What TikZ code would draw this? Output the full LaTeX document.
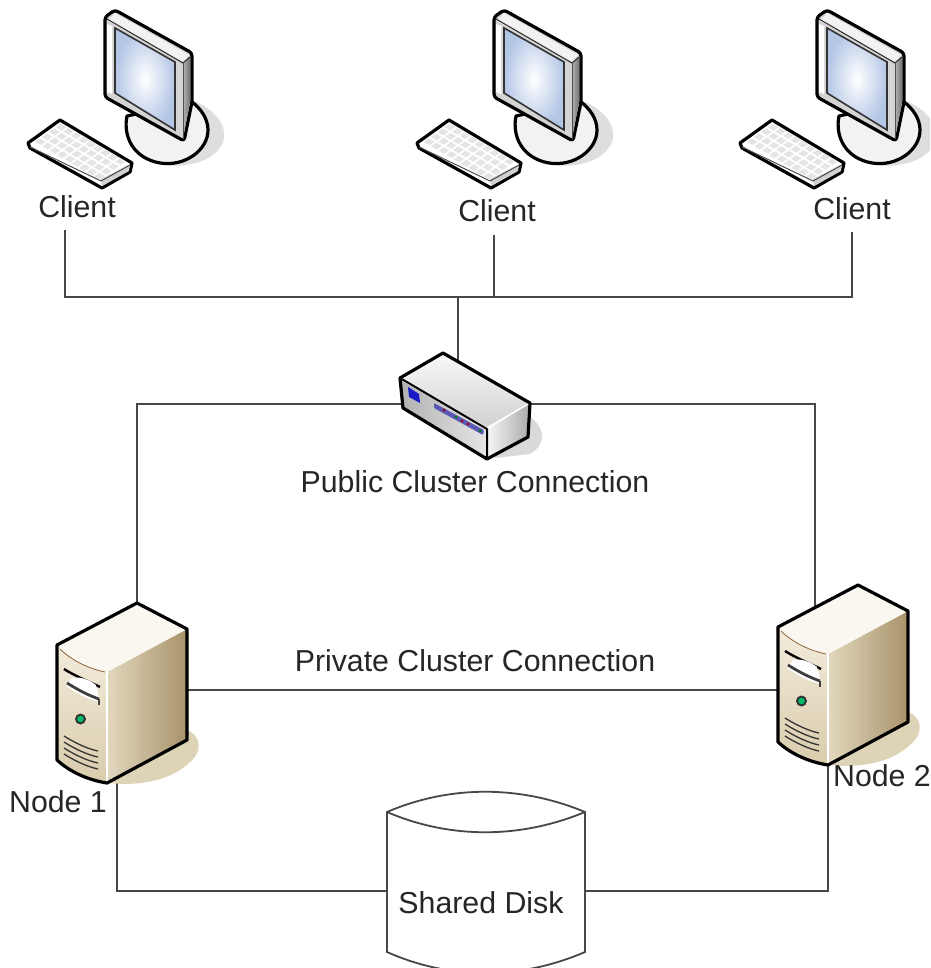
\documentclass[tikz,border=0pt]{standalone}
\usepackage{fontspec}
\setmainfont{Liberation Sans}
\definecolor{shadowbeige}{HTML}{DDD3B6}
\definecolor{frontlight}{HTML}{F3ECDC}
\definecolor{frontdark}{HTML}{D9CCAC}
\definecolor{sidelight}{HTML}{E2D8BE}
\definecolor{sidedark}{HTML}{A8926A}
\definecolor{screenedge}{HTML}{B4C6E6}
\begin{document}
\begin{tikzpicture}[x=1pt,y=-1pt,
  conn/.style={draw=black!72,line width=1.9pt},
  icon/.style={draw=black,line width=3.2pt,line join=round},
  thin icon/.style={draw=black!80,line width=1.1pt},
  lbl/.style={font=\fontsize{30.3}{32}\selectfont,text=black!85,inner sep=0pt},
  pics/client/.style={code={
    % shadow
    \fill[black!13] (192,100) .. controls (222,112) and (232,135) .. (218,150) .. controls (208,162) and (185,168) .. (165,165) -- (150,120) -- cycle;
    % base
    \path[icon,fill=black!5] (127,116) .. controls (123,135) and (132,158) .. (160,163) .. controls (185,167) and (208,150) .. (208,130) .. controls (208,118) and (200,108) .. (192,102) -- cycle;
    % monitor body
    \path[icon,fill=black!17,rounded corners=3pt] (105,17) -- (115,10) -- (192,53) -- (192,102) -- (184,141) -- (105,97) -- cycle;
    \path[left color=black!30,right color=black!55] (183,64) -- (190,57) -- (190,102) -- (183,138) -- cycle;
    \fill[black!5] (108,21) -- (115,13) -- (189,55) -- (183,62) -- cycle;
    \draw[thin icon] (107,19) -- (183,63) -- (190,57);
    \draw[black!70,line width=.8pt] (183,63) -- (183,139);
    \fill[white] (107,24) -- (112,26) -- (112,94) -- (107,92) -- cycle;
    \path[thin icon,line width=1.6pt,inner color=white,outer color=screenedge] (115,28) -- (175,62) -- (175,130) -- (115,93) -- cycle;
    % keyboard
    \path[icon,fill=white] (28,143) -- (60,120) -- (132,163) -- (130,172) -- (102,188) -- (30,148) -- cycle;
    \fill[black!18] (101,179) -- (130,164) -- (129,171) -- (102,186) -- cycle;
    \draw[black!70,line width=1pt] (30,147) -- (101,181) -- (130,165);
    \foreach \i in {0,...,8}\foreach \j in {0,...,3}{
      \fill[black!10] ({34+\i*7.4+\j*7},{142+\i*4.3-\j*4.9}) ++(1,0) -- ++(5.5,3.2) -- ++(5,-3.6) -- ++(-5.5,-3.2) -- cycle;
    }
  }},
  pics/hub/.style={code={
    \coordinate (-top) at (458,362);
    \coordinate (-left) at (401,404);
    \coordinate (-right) at (530,404);
    \fill[black!15] (528,415) .. controls (548,430) and (545,445) .. (530,454) -- (495,458) -- cycle;
    \path[top color=black!3,bottom color=black!18] (402,380) -- (443,355) -- (528,403) -- (487,427) -- cycle;
    \path[left color=black!4,right color=black!32] (488,429) -- (528,405) -- (527,436) -- (488,457) -- cycle;
    \path[left color=black!30,right color=black!10] (402,381) -- (487,429) -- (487,457) -- (404,407) -- cycle;
    \path[icon] (400,378) -- (443,353) -- (530,403) -- (528,437) -- (487,459) -- (403,408) -- cycle;
    \draw[icon,line width=2pt] (400,378) -- (487,429) -- (487,459);
    \fill[blue!75!black!90] (408,387) -- (419,394) -- (420,403) -- (409,397) -- cycle;
    \fill[blue!55!black!65,rounded corners=1pt] (434,403) -- (484,430) -- (483,435) -- (434,408) -- cycle;
    \fill[red!60!black] (444,410) circle (1.5);
    \fill[green!50!black] (456,417) circle (1.5);
    \fill[red!70!black] (462,421) circle (1.5);
    \fill[red!70!black] (468,424) circle (1.5);
    \fill[green!50!black] (480,431) circle (1.5);
  }},
  pics/server/.style={code={
    \coordinate (-top) at (137,603);
    \coordinate (-up) at (94,626);
    \coordinate (-left) at (57,708);
    \coordinate (-right) at (187,708);
    \coordinate (-down) at (107,783);
    % shadow
    \fill[shadowbeige] (187,730) .. controls (200,735) and (204,750) .. (190,762) .. controls (170,782) and (135,786) .. (110,783) -- cycle;
    % right face
    \path[left color=sidelight,right color=sidedark] (107,672) -- (187,629) -- (187,740) -- (107,783) -- cycle;
    % front
    \path[top color=frontlight,bottom color=frontdark] (57,645) .. controls (72,660) and (90,668) .. (107,672) -- (107,783) .. controls (88,780) and (70,772) .. (57,760) -- cycle;
    % top
    \fill[frontlight!40!white] (57,645) -- (137,603) -- (187,629) -- (107,672) .. controls (90,668) and (72,660) .. (57,645) -- cycle;
    \draw[brown!70!black,line width=.7pt] (60,649) .. controls (72,661) and (90,669) .. (105,672);
    \draw[white,line width=1.6pt] (107,672) -- (107,781);
    \path[icon] (57,645) -- (137,603) -- (187,629) -- (187,740) -- (107,783) .. controls (88,780) and (70,772) .. (57,760) -- cycle;
    % drive bays
    \draw[black,line width=2.4pt] (64,669) .. controls (75,676) and (90,682) .. (100,687);
    \fill[white] (72,678) .. controls (80,676) and (90,680) .. (96,685) -- (100,702) .. controls (88,700) and (75,692) .. (66,686) -- cycle;
    \draw[black!75,line width=2.8pt] (67,683) .. controls (78,690) and (90,696) .. (99,699);
    \draw[black!75,line width=1.4pt] (99,699) -- (99,705);
    % LED
    \fill[black!80] (80.5,719) circle (5.5);
    \fill[green!55!black!60!cyan] (80.5,719) circle (3.3);
    % vents
    \foreach \d in {0,6,12,18}{
      \draw[black!80,line width=1.3pt] (64,{736+\d}) .. controls (75,{743+\d}) and (88,{749+\d}) .. (98,{751+\d});
    }
  }},
  pics/shareddisk/.style={code={
    \coordinate (-left) at (387,891);
    \coordinate (-right) at (585,891);
    \path[draw=black!72,line width=1.8pt,fill=white] (387,812) .. controls (450,785) and (520,785) .. (585,812) -- (585,952) .. controls (520,980) and (450,980) .. (387,952) -- cycle;
    \draw[black!72,line width=1.8pt] (387,812) .. controls (450,839) and (520,839) .. (585,812);
  }}
]
\useasboundingbox (0,0) rectangle (930,968);
\clip (0,0) rectangle (930,968);
\fill[white] (0,0) rectangle (930,968);

\coordinate (c1up) at (65,230);
\coordinate (c1bus) at (65,297);
\coordinate (c2up) at (494,235);
\coordinate (c2bus) at (494,297);
\coordinate (c3up) at (852,232);
\coordinate (c3bus) at (852,297);
\coordinate (hubbus) at (458,297);
\coordinate (pubL) at (137,404);
\coordinate (pubR) at (815,404);
\coordinate (diskL) at (117,891);
\coordinate (diskR) at (828,891);

\draw[conn] (c1up) -- (c1bus) -- (c3bus) -- (c3up);
\draw[conn] (c2up) -- (c2bus);
\draw[conn] (hubbus) -- (458,362);
\draw[conn] (401,404) -- (pubL) -- (137,603);
\draw[conn] (530,404) -- (pubR) -- (815,608);
\draw[conn] (187,690) -- (778,690);
\draw[conn] (117,782) -- (diskL) -- (387,891);
\draw[conn] (828,765) -- (diskR) -- (585,891);

\path (0,0) pic (hub) {hub};
\path (0,0) pic (n1) {server};
\path (721,-18) pic (n2) {server};
\path (0,0) pic (disk) {shareddisk};

\path (0,0) pic (cl1) {client};
\path (389,0) pic (cl2) {client};
\path (712,0) pic (cl3) {client};

\node[lbl] (tc1) at (77,207) {Client};
\node[lbl] (tc2) at (497,211) {Client};
\node[lbl] (tc3) at (852,209) {Client};
\node[lbl] (tpub) at (475,482) {Public Cluster Connection};
\node[lbl] (tpriv) at (475,661) {Private Cluster Connection};
\node[lbl] (tn1) at (58,802) {Node 1};
\node[lbl] (tn2) at (882,776) {Node 2};
\node[lbl] (tdisk) at (481,903) {Shared Disk};
\end{tikzpicture}
\end{document}
